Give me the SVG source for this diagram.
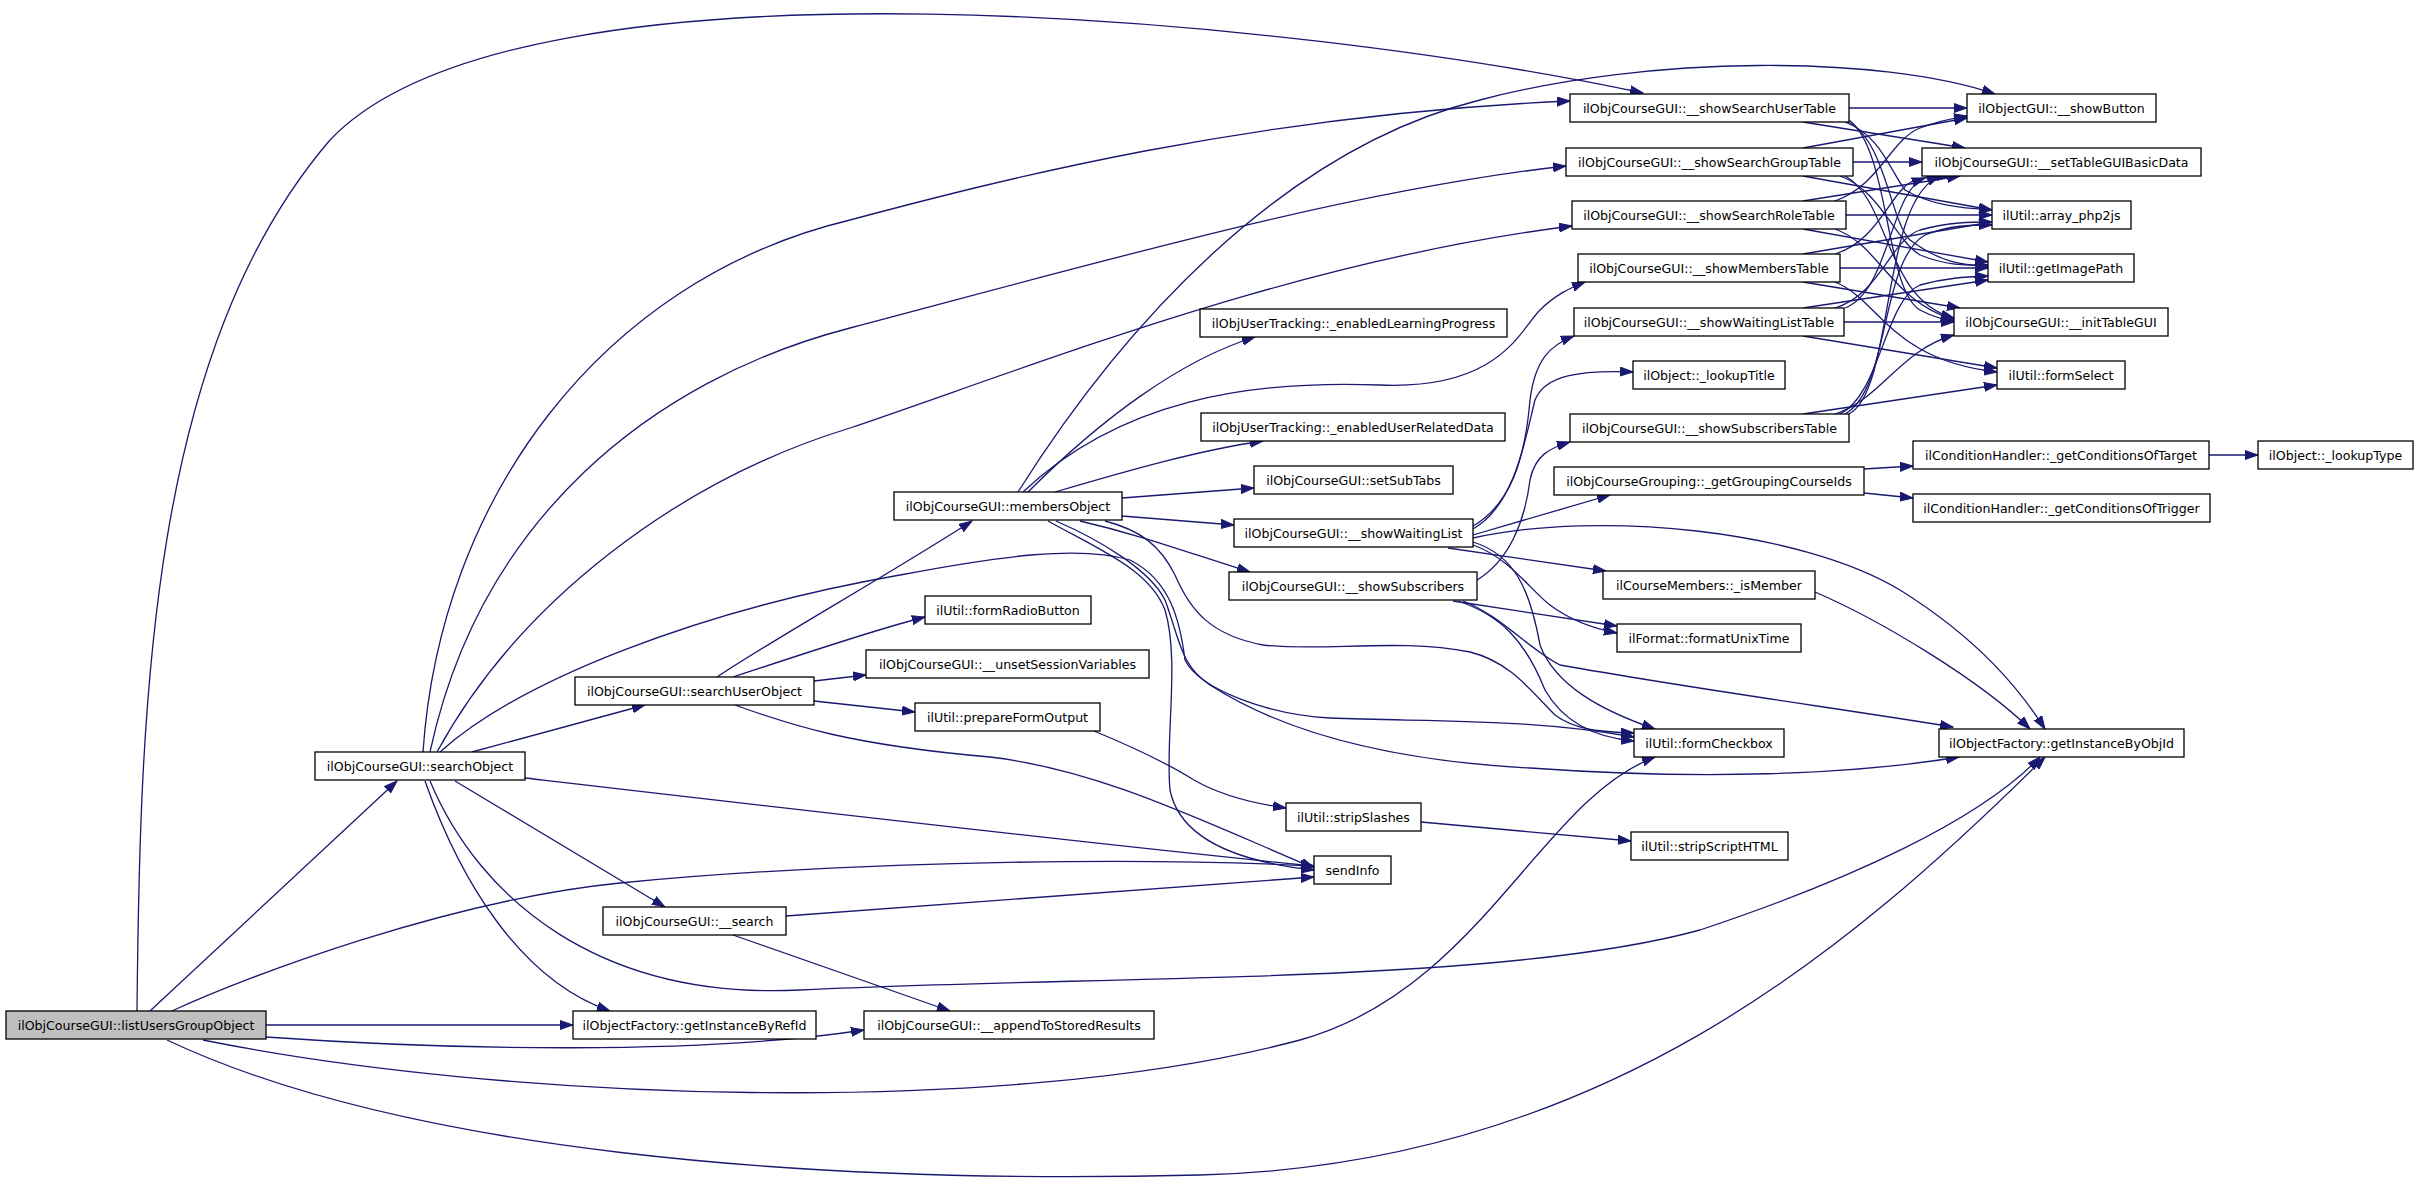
<svg xmlns="http://www.w3.org/2000/svg" width="2419" height="1184" viewBox="0 0 2419 1184">
<style>
.n rect{fill:#fff;stroke:#000;stroke-width:1.3}
.n.g rect{fill:#bfbfbf}
.n text{font-family:"DejaVu Sans","Liberation Sans",sans-serif;font-size:12.6px;text-anchor:middle;fill:#000}
.e path{fill:none;stroke:#191970;stroke-width:1.3;marker-end:url(#a)}
</style>
<defs>
<marker id="a" markerWidth="14" markerHeight="10" refX="13" refY="5" orient="auto" markerUnits="userSpaceOnUse"><path d="M0,0.5 L13,5 L0,9.5 z" fill="#191970" stroke="#191970" stroke-width="1"/></marker>
</defs>
<rect width="2419" height="1184" fill="#fff"/>
<g id="connectors" class="e">
<path d="M137,1011 C140,700 150,350 330,140 C520,-60 1300,20 1643,93"/>
<path d="M150,1011 L397,781"/>
<path d="M172,1011 C250,975 450,900 620,883 C800,865 1100,855 1314,866"/>
<path d="M266,1025 L573,1025"/>
<path d="M266,1037 C450,1050 700,1055 864,1030"/>
<path d="M203,1040 C500,1100 1000,1120 1300,1040 C1480,990 1540,800 1655,757"/>
<path d="M167,1040 C400,1150 800,1185 1200,1175 C1600,1165 1850,950 2045,757"/>
<path d="M423,752 C440,500 600,280 850,220 C1000,180 1250,115 1570,101"/>
<path d="M430,752 C480,520 650,380 850,328 C1100,262 1350,190 1566,166"/>
<path d="M437,752 C520,600 680,480 850,428 C1050,360 1300,260 1572,226"/>
<path d="M472,752 L645,705"/>
<path d="M525,778 C800,810 1100,845 1314,866"/>
<path d="M455,781 L665,907"/>
<path d="M425,781 C460,880 520,980 610,1011"/>
<path d="M430,781 C480,900 600,1000 800,990 C1100,975 1500,985 1700,930 C1850,880 1980,820 2040,757"/>
<path d="M440,752 C520,680 700,610 900,575 C1000,556 1080,545 1130,560 C1170,580 1180,620 1185,660 C1200,690 1270,715 1330,718 C1430,722 1530,718 1634,737"/>
<path d="M717,677 C780,635 880,580 972,521"/>
<path d="M733,677 C800,655 880,628 925,617"/>
<path d="M814,681 L866,675"/>
<path d="M814,701 L915,712"/>
<path d="M735,705 C790,725 850,745 990,757 C1100,770 1200,820 1314,868"/>
<path d="M786,916 L1314,877"/>
<path d="M733,935 L950,1011"/>
<path d="M1018,492 C1120,330 1280,150 1480,100 C1650,55 1880,55 1995,94"/>
<path d="M1028,492 C1100,420 1180,360 1255,337"/>
<path d="M1023,492 C1120,400 1250,380 1380,385 C1500,390 1520,330 1540,310 C1555,295 1570,288 1585,282"/>
<path d="M1055,492 C1130,470 1200,450 1263,441"/>
<path d="M1122,498 L1254,488"/>
<path d="M1122,516 L1234,525"/>
<path d="M1080,521 C1140,535 1180,550 1250,572"/>
<path d="M1048,521 C1100,550 1150,570 1165,610 C1180,660 1165,740 1170,790 C1180,840 1240,862 1314,870"/>
<path d="M1056,521 C1100,540 1150,570 1165,600 C1180,640 1180,665 1210,685 C1280,730 1380,760 1530,768 C1700,780 1850,775 1959,757"/>
<path d="M1105,521 C1140,530 1160,545 1175,575 C1190,610 1210,635 1263,645 C1320,652 1400,638 1470,652 C1510,662 1530,690 1555,715 C1575,730 1600,732 1634,733"/>
<path d="M1473,526 C1510,505 1525,460 1530,400 C1535,360 1550,345 1574,336"/>
<path d="M1473,529 C1515,505 1525,440 1535,400 C1545,375 1580,370 1633,372"/>
<path d="M1473,535 L1610,495"/>
<path d="M1473,538 C1600,510 1800,530 1900,590 C1980,640 2020,690 2045,729"/>
<path d="M1448,548 L1606,571"/>
<path d="M1473,545 C1510,558 1530,590 1550,605 C1570,620 1590,628 1617,633"/>
<path d="M1473,542 C1515,555 1530,590 1540,645 C1555,685 1600,710 1655,729"/>
<path d="M1477,580 C1510,560 1525,520 1530,480 C1535,455 1550,448 1570,442"/>
<path d="M1453,601 L1617,626"/>
<path d="M1458,601 C1500,615 1525,640 1545,690 C1565,725 1600,738 1634,741"/>
<path d="M1463,601 C1500,615 1530,650 1560,665 C1700,690 1850,710 1953,727"/>
<path d="M1815,592 C1880,620 1980,680 2030,729"/>
<path d="M1864,469 L1913,466"/>
<path d="M1864,493 L1913,498"/>
<path d="M2209,455 L2258,455"/>
<path d="M1094,731 C1140,750 1170,765 1194,780 C1220,795 1250,803 1286,808"/>
<path d="M1421,822 L1631,841"/>
<path d="M1849,108 L1967,108"/>
<path d="M1803,122 L1965,148"/>
<path d="M1845,122 C1880,135 1890,170 1905,190 C1930,205 1960,208 1992,210"/>
<path d="M1848,122 C1885,140 1890,220 1910,240 C1940,262 1960,265 1988,266"/>
<path d="M1849,120 C1890,150 1885,290 1920,310 C1935,318 1945,320 1954,320"/>
<path d="M1803,148 L1967,118"/>
<path d="M1853,162 L1922,162"/>
<path d="M1803,176 L1992,210"/>
<path d="M1840,176 C1880,190 1895,240 1920,255 C1945,265 1965,266 1988,265"/>
<path d="M1845,176 C1890,200 1885,300 1954,318"/>
<path d="M1835,201 C1880,185 1890,140 1920,128 C1940,120 1955,118 1967,116"/>
<path d="M1803,201 L1960,176"/>
<path d="M1846,215 L1992,215"/>
<path d="M1803,229 L1988,262"/>
<path d="M1835,229 C1880,245 1890,300 1954,320"/>
<path d="M1835,254 C1880,240 1890,190 1915,180 C1930,176 1940,176 1950,176"/>
<path d="M1803,254 L1992,222"/>
<path d="M1840,268 L1988,268"/>
<path d="M1803,282 L1960,308"/>
<path d="M1835,282 C1880,300 1890,360 1997,372"/>
<path d="M1845,308 C1890,290 1890,190 1925,178"/>
<path d="M1835,308 C1880,295 1890,240 1920,230 C1950,222 1970,222 1992,222"/>
<path d="M1803,308 L1988,280"/>
<path d="M1844,322 L1954,322"/>
<path d="M1803,336 L1997,368"/>
<path d="M1803,414 L1997,385"/>
<path d="M1835,414 C1880,400 1900,350 1954,335"/>
<path d="M1840,414 C1880,395 1885,300 1920,285 C1945,278 1965,277 1988,276"/>
<path d="M1845,414 C1890,390 1880,260 1925,235 C1950,225 1970,225 1992,225"/>
<path d="M1849,414 C1895,390 1880,200 1940,176"/>
</g>
<g id="n1" class="n g"><rect x="6" y="1011" width="260" height="28"/><text x="136" y="1029.5">ilObjCourseGUI::listUsersGroupObject</text></g>
<g id="n2" class="n"><rect x="315" y="752" width="210" height="28"/><text x="420" y="770.5">ilObjCourseGUI::searchObject</text></g>
<g id="n3" class="n"><rect x="575" y="677" width="239" height="28"/><text x="694.5" y="695.5">ilObjCourseGUI::searchUserObject</text></g>
<g id="n4" class="n"><rect x="603" y="907" width="183" height="28"/><text x="694.5" y="925.5">ilObjCourseGUI::__search</text></g>
<g id="n5" class="n"><rect x="573" y="1011" width="243" height="28"/><text x="694.5" y="1029.5">ilObjectFactory::getInstanceByRefId</text></g>
<g id="n6" class="n"><rect x="864" y="1011" width="290" height="28"/><text x="1009" y="1029.5">ilObjCourseGUI::__appendToStoredResults</text></g>
<g id="n7" class="n"><rect x="894" y="492" width="228" height="28"/><text x="1008" y="510.5">ilObjCourseGUI::membersObject</text></g>
<g id="n8" class="n"><rect x="925" y="596" width="166" height="28"/><text x="1008" y="614.5">ilUtil::formRadioButton</text></g>
<g id="n9" class="n"><rect x="866" y="650" width="283" height="28"/><text x="1007.5" y="668.5">ilObjCourseGUI::__unsetSessionVariables</text></g>
<g id="n10" class="n"><rect x="915" y="703" width="185" height="28"/><text x="1007.5" y="721.5">ilUtil::prepareFormOutput</text></g>
<g id="n11" class="n"><rect x="1314" y="856" width="77" height="28"/><text x="1352.5" y="874.5">sendInfo</text></g>
<g id="n12" class="n"><rect x="1200" y="309" width="307" height="28"/><text x="1353.5" y="327.5">ilObjUserTracking::_enabledLearningProgress</text></g>
<g id="n13" class="n"><rect x="1201" y="413" width="304" height="28"/><text x="1353" y="431.5">ilObjUserTracking::_enabledUserRelatedData</text></g>
<g id="n14" class="n"><rect x="1254" y="466" width="199" height="28"/><text x="1353.5" y="484.5">ilObjCourseGUI::setSubTabs</text></g>
<g id="n15" class="n"><rect x="1234" y="519" width="239" height="28"/><text x="1353.5" y="537.5">ilObjCourseGUI::__showWaitingList</text></g>
<g id="n16" class="n"><rect x="1229" y="572" width="248" height="28"/><text x="1353" y="590.5">ilObjCourseGUI::__showSubscribers</text></g>
<g id="n17" class="n"><rect x="1286" y="803" width="135" height="28"/><text x="1353.5" y="821.5">ilUtil::stripSlashes</text></g>
<g id="n18" class="n"><rect x="1631" y="832" width="157" height="28"/><text x="1709.5" y="850.5">ilUtil::stripScriptHTML</text></g>
<g id="n19" class="n"><rect x="1634" y="729" width="150" height="28"/><text x="1709" y="747.5">ilUtil::formCheckbox</text></g>
<g id="n20" class="n"><rect x="1570" y="94" width="279" height="28"/><text x="1709.5" y="112.5">ilObjCourseGUI::__showSearchUserTable</text></g>
<g id="n21" class="n"><rect x="1566" y="148" width="287" height="28"/><text x="1709.5" y="166.5">ilObjCourseGUI::__showSearchGroupTable</text></g>
<g id="n22" class="n"><rect x="1572" y="201" width="274" height="28"/><text x="1709" y="219.5">ilObjCourseGUI::__showSearchRoleTable</text></g>
<g id="n23" class="n"><rect x="1578" y="254" width="262" height="28"/><text x="1709" y="272.5">ilObjCourseGUI::__showMembersTable</text></g>
<g id="n24" class="n"><rect x="1574" y="308" width="270" height="28"/><text x="1709" y="326.5">ilObjCourseGUI::__showWaitingListTable</text></g>
<g id="n25" class="n"><rect x="1633" y="361" width="152" height="28"/><text x="1709" y="379.5">ilObject::_lookupTitle</text></g>
<g id="n26" class="n"><rect x="1570" y="414" width="279" height="28"/><text x="1709.5" y="432.5">ilObjCourseGUI::__showSubscribersTable</text></g>
<g id="n27" class="n"><rect x="1554" y="467" width="310" height="28"/><text x="1709" y="485.5">ilObjCourseGrouping::_getGroupingCourseIds</text></g>
<g id="n28" class="n"><rect x="1603" y="571" width="212" height="28"/><text x="1709" y="589.5">ilCourseMembers::_isMember</text></g>
<g id="n29" class="n"><rect x="1617" y="624" width="184" height="28"/><text x="1709" y="642.5">ilFormat::formatUnixTime</text></g>
<g id="n30" class="n"><rect x="1939" y="729" width="245" height="28"/><text x="2061.5" y="747.5">ilObjectFactory::getInstanceByObjId</text></g>
<g id="n31" class="n"><rect x="1967" y="94" width="189" height="28"/><text x="2061.5" y="112.5">ilObjectGUI::__showButton</text></g>
<g id="n32" class="n"><rect x="1922" y="148" width="279" height="28"/><text x="2061.5" y="166.5">ilObjCourseGUI::__setTableGUIBasicData</text></g>
<g id="n33" class="n"><rect x="1992" y="201" width="139" height="28"/><text x="2061.5" y="219.5">ilUtil::array_php2js</text></g>
<g id="n34" class="n"><rect x="1988" y="254" width="146" height="28"/><text x="2061" y="272.5">ilUtil::getImagePath</text></g>
<g id="n35" class="n"><rect x="1954" y="308" width="214" height="28"/><text x="2061" y="326.5">ilObjCourseGUI::__initTableGUI</text></g>
<g id="n36" class="n"><rect x="1997" y="361" width="128" height="28"/><text x="2061" y="379.5">ilUtil::formSelect</text></g>
<g id="n37" class="n"><rect x="1913" y="441" width="296" height="28"/><text x="2061" y="459.5">ilConditionHandler::_getConditionsOfTarget</text></g>
<g id="n38" class="n"><rect x="1913" y="494" width="297" height="28"/><text x="2061.5" y="512.5">ilConditionHandler::_getConditionsOfTrigger</text></g>
<g id="n39" class="n"><rect x="2258" y="441" width="155" height="28"/><text x="2335.5" y="459.5">ilObject::_lookupType</text></g>
</svg>
